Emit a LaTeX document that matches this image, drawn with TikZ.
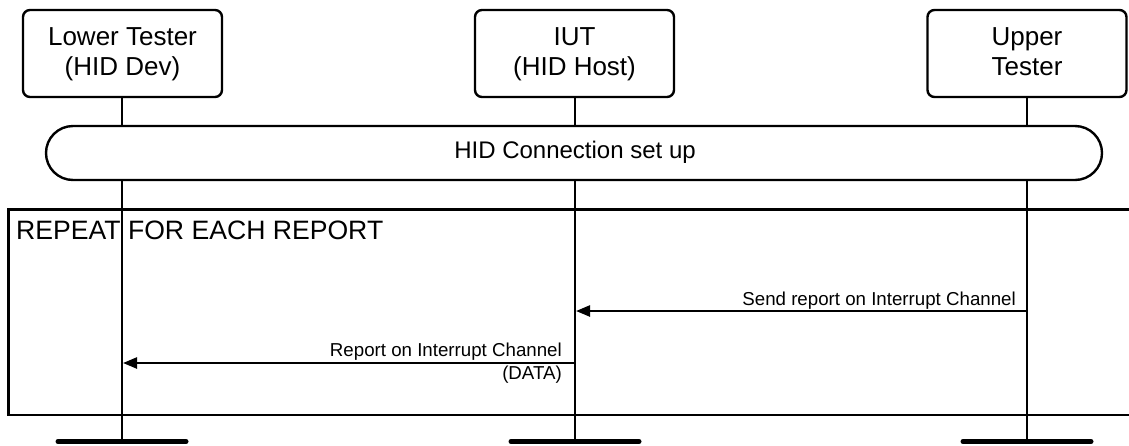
\documentclass[tikz,border=0pt]{standalone}
\usepackage{fontspec}
\setmainfont{Liberation Sans}
\usetikzlibrary{arrows.meta}
\begin{document}
\begin{tikzpicture}[x=1pt,y=-1pt,
  actor/.style={draw,line width=2.4pt,rounded corners=7pt,minimum width=199pt,minimum height=87pt,fill=white,inner sep=0pt},
  atext/.style={font=\fontsize{26}{30}\selectfont,inner sep=0pt,anchor=base},
  life/.style={line width=2.4pt},
  bar/.style={line width=5pt,line cap=round},
  msg/.style={line width=2.4pt,-{Triangle[length=14pt,width=11pt]},shorten >=1pt},
  framel/.style={line width=2.6pt,line join=miter},
  lab/.style={font=\fontsize{18.7}{22}\selectfont,inner sep=0pt,anchor=base east}]
\useasboundingbox (0,0) rectangle (1129,445);
% frame
\coordinate (fr-tr) at (1129,209.5);
\coordinate (fr-bl) at (8.5,415);
\coordinate (fr-br) at (1129,415);
\draw[framel] (fr-tr) -| (fr-bl) -- (fr-br);
% actors
\node[actor] (lt) at (122.5,53.5) {};
\node[actor] (iut) at (574.5,53.5) {};
\node[actor] (ut) at (1027,53.5) {};
% lifeline ends
\coordinate (lt-end) at (122,441.5);
\coordinate (iut-end) at (575,441.5);
\coordinate (ut-end) at (1027,441.5);
\draw[life] (lt.south -| lt-end) -- (lt-end);
\draw[life] (iut.south -| iut-end) -- (iut-end);
\draw[life] (ut.south -| ut-end) -- (ut-end);
% bars
\coordinate (lt-b1) at (58,441.5);  \coordinate (lt-b2) at (186,441.5);
\coordinate (iut-b1) at (511,441.5); \coordinate (iut-b2) at (639,441.5);
\coordinate (ut-b1) at (963,441.5); \coordinate (ut-b2) at (1091,441.5);
\draw[bar] (lt-b1) -- (lt-b2);
\draw[bar] (iut-b1) -- (iut-b2);
\draw[bar] (ut-b1) -- (ut-b2);
% actor texts
\node[atext] (lt-t1) at (122.5,45) {Lower Tester};
\node[atext] (lt-t2) at (122.5,75) {(HID Dev)};
\node[atext] (iut-t1) at (574.5,45) {IUT};
\node[atext] (iut-t2) at (574.5,75) {(HID Host)};
\node[atext] (ut-t1) at (1027,45) {Upper};
\node[atext] (ut-t2) at (1027,75) {Tester};
% HID connection
\node[draw,line width=2.4pt,fill=white,rounded corners=27pt,minimum width=1056pt,minimum height=54pt,inner sep=0pt] (hid) at (574,153) {};
\node[font=\fontsize{24}{28}\selectfont,inner sep=0pt,anchor=base] (hid-t) at (575,158) {HID Connection set up};
% repeat label
\node[anchor=base west,font=\fontsize{26.6}{30}\selectfont,inner sep=0pt] (rep) at (16,239) {REPEAT FOR EACH REPORT};
% messages
\coordinate (ut-m1) at (1027,311);
\coordinate (iut-m1) at (575,311);
\draw[msg] (ut-m1) -- (iut-m1);
\node[lab] (m1-l) at (1016,305) {Send report on Interrupt Channel};
\coordinate (iut-m2) at (575,363);
\coordinate (lt-m2) at (122,363);
\draw[msg] (iut-m2) -- (lt-m2);
\node[lab] (m2-l) at (562,356) {Report on Interrupt Channel};
\node[lab] (m2-d) at (562,379) {(DATA)};
\end{tikzpicture}
\end{document}
